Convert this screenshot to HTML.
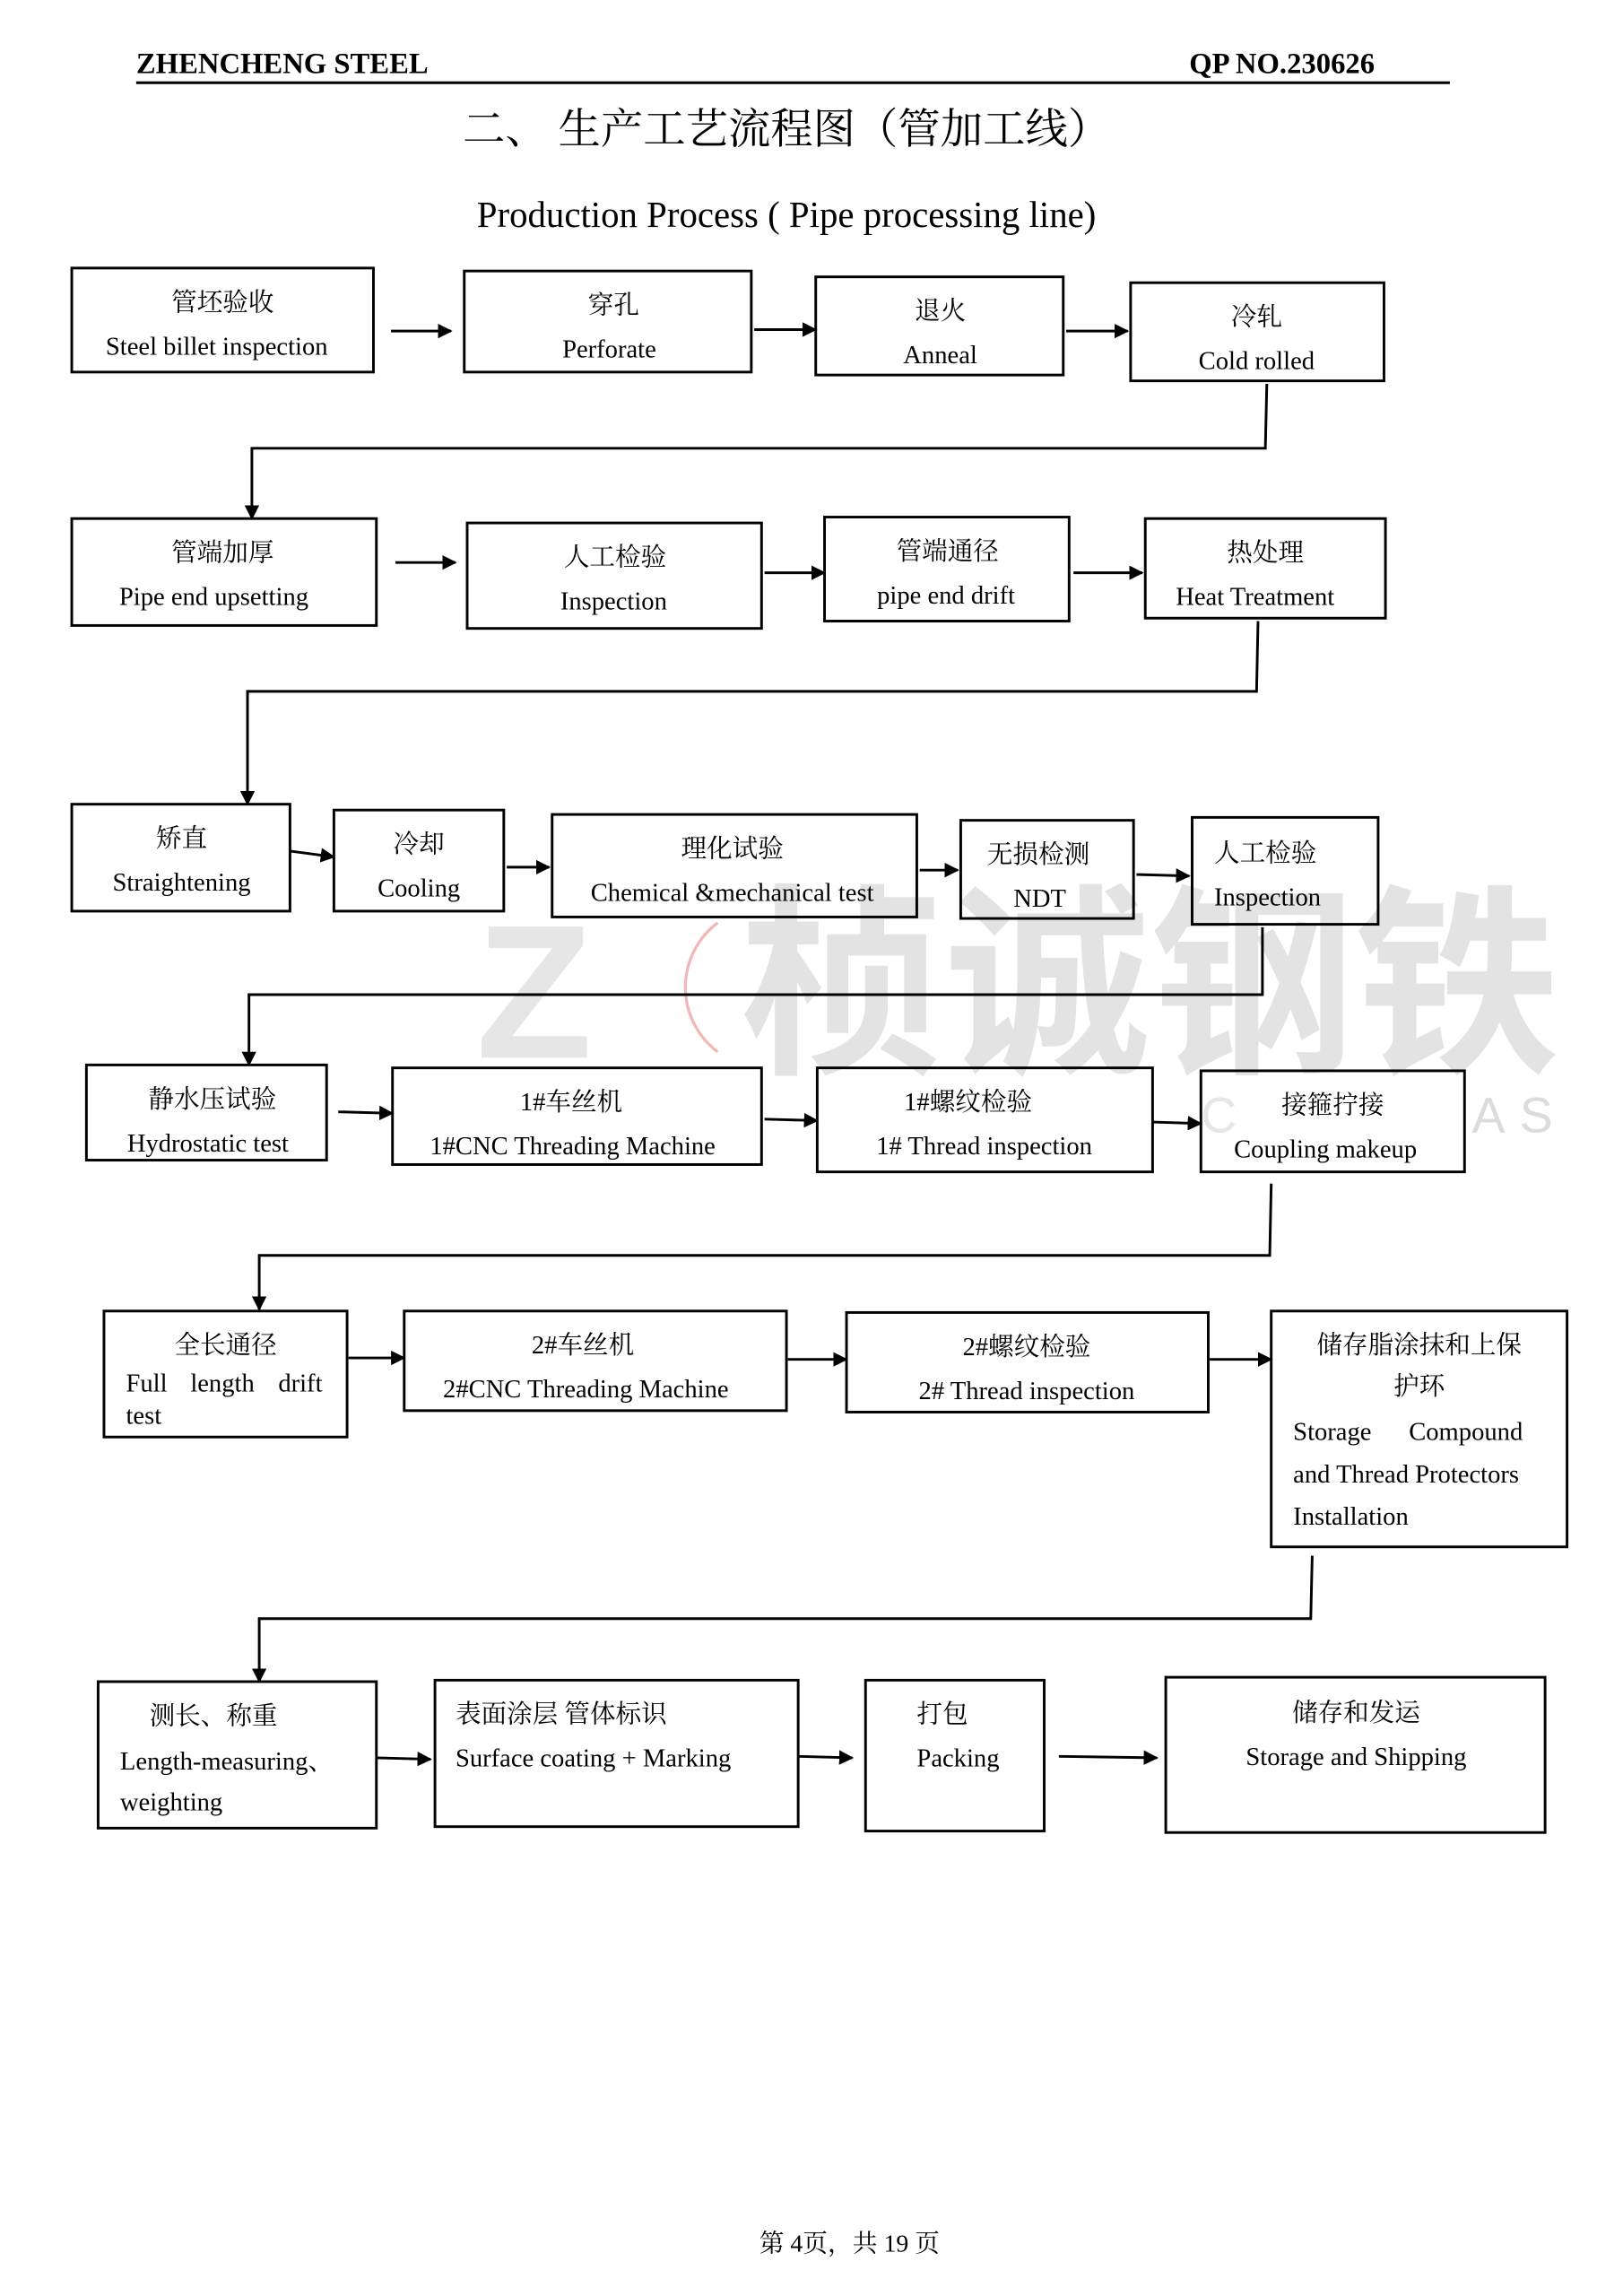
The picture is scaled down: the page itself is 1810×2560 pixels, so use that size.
<!DOCTYPE html>
<html><head><meta charset="utf-8"><style>
html,body{margin:0;padding:0;background:#fff;}
svg{display:block;}
text{font-family:"Liberation Serif","Noto Serif CJK SC",serif;fill:#000;}
.t{font-size:17.5px;}
</style></head><body>
<svg width="1810" height="2560" viewBox="0 0 1108.2 1567.4" xmlns="http://www.w3.org/2000/svg">
<defs><marker id="a" markerWidth="10" markerHeight="10" refX="9" refY="5" orient="auto" markerUnits="userSpaceOnUse"><path d="M0,0 L10,5 L0,10 z" fill="#000"/></marker></defs>
<g>
<text x="505" y="722" style="font-size:140px;font-family:'Noto Sans CJK SC',sans-serif;fill:#e3e3e3;font-weight:bold">桢诚钢铁</text>
<text x="325" y="722" style="font-size:130px;font-family:'Liberation Sans',sans-serif;fill:#e6e6e6;font-weight:bold">Z</text>
<path d="M490,630 A55,55 0 0 0 490,718" fill="none" stroke="#f0b8b8" stroke-width="2"/>
<text x="1005" y="773" style="font-size:34px;font-family:'Liberation Sans',sans-serif;fill:#dcdcdc;letter-spacing:10px">AS</text>
<text x="820" y="773" style="font-size:34px;font-family:'Liberation Sans',sans-serif;fill:#e6e6e6">C</text>
</g>
<text x="93" y="50" style="font-size:20px;font-weight:bold">ZHENCHENG STEEL</text>
<text x="812" y="50" style="font-size:20px;font-weight:bold">QP NO.230626</text>
<line x1="93" y1="56.5" x2="990" y2="56.5" stroke="#000" stroke-width="1.8"/>
<text x="537" y="98" text-anchor="middle" style="font-size:29px">二、 生产工艺流程图（管加工线）</text>
<text x="537" y="155" text-anchor="middle" style="font-size:25px">Production Process ( Pipe processing line)</text>
<g fill="none" stroke="#000" stroke-width="1.8">
<rect x="49" y="183" width="206" height="71"/><rect x="317" y="185" width="196" height="69"/>
<rect x="557" y="189" width="169" height="67"/><rect x="772" y="193" width="173" height="67"/>
<rect x="49" y="354" width="208" height="73"/><rect x="319" y="357" width="201" height="72"/>
<rect x="563" y="353" width="167" height="71"/><rect x="782" y="354" width="164" height="68"/>
<rect x="49" y="549" width="149" height="73"/><rect x="228" y="553" width="116" height="69"/>
<rect x="377" y="556" width="249" height="70"/><rect x="656" y="560" width="118" height="67"/>
<rect x="814" y="558" width="127" height="73"/>
<rect x="59" y="727" width="164" height="65"/><rect x="268" y="729" width="252" height="66"/>
<rect x="558" y="729" width="229" height="71"/><rect x="820" y="731" width="180" height="69"/>
<rect x="71" y="895" width="166" height="86"/><rect x="276" y="895" width="261" height="68"/>
<rect x="578" y="896" width="247" height="68"/><rect x="868" y="895" width="202" height="161"/>
<rect x="67" y="1148" width="190" height="100"/><rect x="297" y="1147" width="248" height="100"/>
<rect x="591" y="1147" width="122" height="103"/><rect x="796" y="1145" width="259" height="106"/>
</g>
<g fill="none" stroke="#000" stroke-width="1.8" marker-end="url(#a)">
<line x1="267" y1="226" x2="308" y2="226"/><line x1="515" y1="225" x2="557" y2="225"/><line x1="728" y1="226" x2="770" y2="226"/>
<polyline points="865,262 864,306 172,306 172,354" />
<line x1="270" y1="384" x2="311" y2="384"/><line x1="522" y1="391" x2="563" y2="391"/><line x1="733" y1="391" x2="780" y2="391"/>
<polyline points="859,424 858,472 169,472 169,549"/>
<line x1="198" y1="581" x2="228" y2="585"/><line x1="346" y1="592" x2="375" y2="592"/><line x1="628" y1="594" x2="654" y2="594"/><line x1="776" y1="597" x2="812" y2="598"/>
<polyline points="862,633 862,679 170,679 170,727"/>
<line x1="231" y1="759" x2="268" y2="760"/><line x1="522" y1="764" x2="558" y2="765"/><line x1="787" y1="766" x2="820" y2="767"/>
<polyline points="868,808 867,857 177,857 177,894"/>
<line x1="238" y1="927" x2="276" y2="927"/><line x1="538" y1="928" x2="578" y2="928"/><line x1="826" y1="928" x2="868" y2="928"/>
<polyline points="896,1062 895,1105 177,1105 177,1148"/>
<line x1="257" y1="1200" x2="294" y2="1201"/><line x1="545" y1="1199" x2="582" y2="1200"/><line x1="723" y1="1199" x2="790" y2="1200"/>
</g>
<g class="t" text-anchor="middle">
<text x="152" y="212">管坯验收</text><text x="148" y="242">Steel billet inspection</text>
<text x="419" y="214">穿孔</text><text x="416" y="244">Perforate</text>
<text x="642" y="218">退火</text><text x="642" y="248">Anneal</text>
<text x="858" y="222">冷轧</text><text x="858" y="252">Cold rolled</text>
<text x="152" y="383">管端加厚</text><text x="146" y="413">Pipe end upsetting</text>
<text x="420" y="386">人工检验</text><text x="419" y="416">Inspection</text>
<text x="647" y="382">管端通径</text><text x="646" y="412">pipe end drift</text>
<text x="864" y="383">热处理</text><text x="857" y="413">Heat Treatment</text>
<text x="124" y="578">矫直</text><text x="124" y="608">Straightening</text>
<text x="286" y="582">冷却</text><text x="286" y="612">Cooling</text>
<text x="500" y="585">理化试验</text><text x="500" y="615">Chemical &amp;mechanical test</text>
<text x="709" y="589">无损检测</text><text x="710" y="619">NDT</text>
<text x="145" y="756">静水压试验</text><text x="142" y="786">Hydrostatic test</text>
<text x="390" y="758">1#车丝机</text><text x="391" y="788">1#CNC Threading Machine</text>
<text x="661" y="758">1#螺纹检验</text><text x="672" y="788">1# Thread inspection</text>
<text x="910" y="760">接箍拧接</text><text x="905" y="790">Coupling makeup</text>
<text x="154" y="924">全长通径</text>
<text x="398" y="924">2#车丝机</text><text x="400" y="954">2#CNC Threading Machine</text>
<text x="701" y="925">2#螺纹检验</text><text x="701" y="955">2# Thread inspection</text>
<text x="969" y="924">储存脂涂抹和上保</text><text x="969" y="952">护环</text>
<text x="926" y="1175">储存和发运</text><text x="926" y="1205">Storage and Shipping</text>
</g>
<g class="t">
<text x="829" y="588">人工检验</text><text x="829" y="618">Inspection</text>
<text x="86" y="950">Full</text><text x="130" y="950">length</text><text x="190" y="950">drift</text><text x="86" y="972">test</text>
<text x="883" y="983">Storage</text><text x="962" y="983">Compound</text>
<text x="883" y="1012">and Thread Protectors</text><text x="883" y="1041">Installation</text>
<text x="102" y="1177">测长、称重</text><text x="82" y="1208">Length-measuring、</text><text x="82" y="1236">weighting</text>
<text x="311" y="1176">表面涂层  管体标识</text><text x="311" y="1206">Surface coating + Marking</text>
<text x="626" y="1176">打包</text><text x="626" y="1206">Packing</text>
</g>
<text x="580" y="1537" text-anchor="middle" style="font-size:17px">第 4页，共 19 页</text>
</svg>
</body></html>
